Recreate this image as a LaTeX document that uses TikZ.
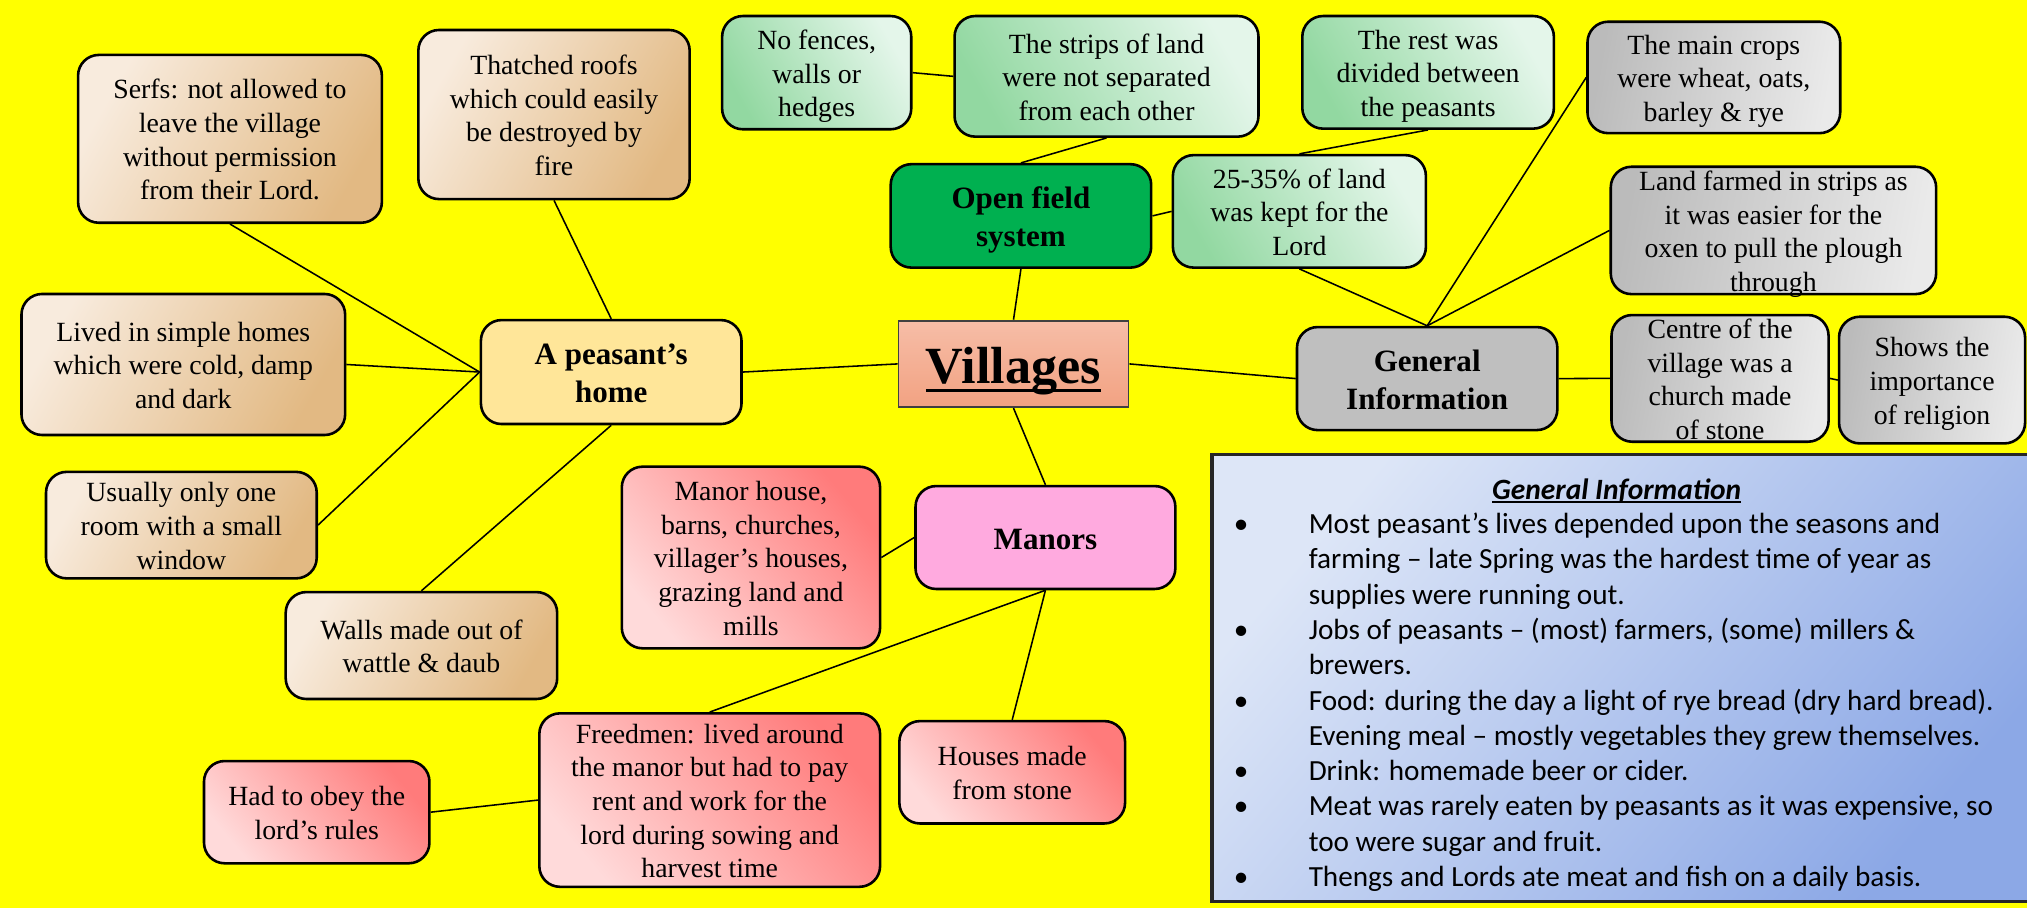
\documentclass[tikz,border=0pt]{standalone}
\usepackage{fontspec}
\setmainfont{Liberation Serif}
\newfontfamily\serifx{Liberation Serif}
\newfontfamily\calfont{Carlito}
\usetikzlibrary{fit}
\definecolor{bgY}{HTML}{FFFF00}
\definecolor{brL}{HTML}{F8EBDD}
\definecolor{brD}{HTML}{E2B983}
\definecolor{grL}{HTML}{E4F6EA}
\definecolor{grD}{HTML}{92D8A1}
\definecolor{gyD}{HTML}{BBBBBB}
\definecolor{gyL}{HTML}{EAEAEA}
\definecolor{rdD}{HTML}{FF7B7B}
\definecolor{rdL}{HTML}{FFDADA}
\definecolor{homeC}{HTML}{FFE699}
\definecolor{openC}{HTML}{00B050}
\definecolor{giC}{HTML}{BFBFBF}
\definecolor{manC}{HTML}{FFAADF}
\definecolor{vilT}{HTML}{F6BDA7}
\definecolor{vilB}{HTML}{F2A282}
\definecolor{blL}{HTML}{DDE6F7}
\definecolor{blD}{HTML}{8CA8E6}
\newcommand\bt[1]{\smash{\raisebox{\dimexpr-0.25em-1.5pt\relax}{\begin{tabular}{@{}c@{}}#1\end{tabular}}}}
\newcommand\myul[3]{\setbox0\hbox{#3}\rlap{\rule[#1]{\wd0}{#2}}\box0}
\tikzset{
  bxs/.style={draw=black, line width=1pt, rounded corners=8pt, inner sep=0pt,
    font=\serifx\fontsize{10.75}{13}\selectfont},
  hds/.style={bxs, font=\serifx\fontsize{12}{14.7}\selectfont\bfseries},
  brownbox/.style={bxs, top color=brL, bottom color=brD, shading angle=60},
  greenbox/.style={bxs, top color=grL, bottom color=grD, shading angle=-60},
  greybox/.style={bxs, top color=gyD, bottom color=gyL, shading angle=80},
  redbox/.style={bxs, top color=rdD, bottom color=rdL, shading angle=-50},
  conn/.style={draw=black, line width=0.6pt},
}
\begin{document}
\begin{tikzpicture}[x=0.5pt,y=-0.5pt]
\useasboundingbox (0,0) rectangle (1568,702);
\fill[bgY] (0,0) rectangle (1568,702);

% central
\node[draw=black!75, line width=0.7pt, inner sep=0pt, top color=vilT, bottom color=vilB,
  font=\serifx\fontsize{20.2}{24}\selectfont\bfseries, fit={(695,248) (873,315)}] (villages)
  {\smash{\raisebox{-7.5pt}{\myul{-3.5pt}{1.3pt}{Villages}}}};

% peasant's home branch
\node[hds, fill=homeC, fit={(372,247.6) (573.6,328)}] (home) {\bt{A peasant’s\\home}};
\node[brownbox, fit={(60.4,42.5) (295.4,172.3)}] (serfs) {\bt{Serfs: not allowed to\\leave the village\\without permission\\from their Lord.}};
\node[brownbox, fit={(323.6,23.2) (533.5,154)}] (thatched) {\bt{Thatched roofs\\which could easily\\be destroyed by\\fire}};
\node[brownbox, fit={(16.6,227.4) (267,336.5)}] (lived) {\bt{Lived in simple homes\\which were cold, damp\\and dark}};
\node[brownbox, fit={(35.6,365) (245,447.4)}] (usually) {\bt{Usually only one\\room with a small\\window}};
\node[brownbox, fit={(221,458) (431,540.7)}] (walls) {\bt{Walls made out of\\wattle \& daub}};

% open field branch
\node[hds, fill=openC, fit={(689,127) (890.5,207)}] (open) {\bt{Open field\\system}};
\node[greenbox, fit={(558.6,12.4) (704.9,100)}] (nofences) {\bt{No fences,\\walls or\\hedges}};
\node[greenbox, fit={(738.4,12.4) (973.5,105.7)}] (strips) {\bt{The strips of land\\were not separated\\from each other}};
\node[greenbox, fit={(1007.4,12.4) (1202,99.5)}] (rest) {\bt{The rest was\\divided between\\the peasants}};
\node[greenbox, fit={(907.3,120) (1103,207)}] (lord) {\bt{25-35\% of land\\was kept for the\\Lord}};

% general information branch
\node[hds, fill=giC, fit={(1003.3,253) (1204.7,332.7)}] (gi) {\bt{General\\Information}};
\node[greybox, fit={(1228,16.8) (1423.5,103)}] (crops) {\bt{The main crops\\were wheat, oats,\\barley \& rye}};
\node[greybox, fit={(1246,129) (1497.7,227.5)}] (land) {\bt{Land farmed in strips as\\it was easier for the\\oxen to pull the plough\\through}};
\node[greybox, fit={(1246.6,243.7) (1414.5,341.7)}] (centre) {\bt{Centre of the\\village was a\\church made\\of stone}};
\node[greybox, fit={(1422.6,245) (1566.5,343)}] (shows) {\bt{Shows the\\importance\\of religion}};

% manors branch
\node[hds, fill=manC, fit={(708.2,376) (909.2,455.6)}] (manors) {\bt{Manors}};
\node[redbox, fit={(481,361) (680.8,501.5)}] (manorhouse) {\bt{Manor house,\\barns, churches,\\villager’s houses,\\grazing land and\\mills}};
\node[redbox, fit={(417.2,551.8) (680.8,686)}] (freedmen) {\bt{Freedmen: lived around\\the manor but had to pay\\rent and work for the\\lord during sowing and\\harvest time}};
\node[redbox, fit={(695.7,557.8) (870.3,637)}] (houses) {\bt{Houses made\\from stone}};
\node[redbox, fit={(157.8,588.7) (332.2,667.8)}] (obey) {\bt{Had to obey the\\lord’s rules}};

% info panel
\node[draw=black!85, line width=1.3pt, inner sep=0pt, top color=blL, bottom color=blD, shading angle=50,
  fit={(937.5,351.5) (1574,697.5)}] (panel) {};
\node[anchor=base, inner sep=0pt, font=\calfont\bfseries\itshape\fontsize{11.4}{13.65}\selectfont]
  (ptitle) at (1250.6,386) {\myul{-1.4pt}{0.6pt}{General Information}};
\node[anchor=north west, inner sep=0pt, font=\calfont\fontsize{11.3}{13.65}\selectfont]
  (plist) at (954,393.3) {\begin{tabular}{@{}p{29pt}@{}l@{}}
\textbullet & Most peasant’s lives depended upon the seasons and\\
 & farming – late Spring was the hardest time of year as\\
 & supplies were running out.\\
\textbullet & Jobs of peasants – (most) farmers, (some) millers \&\\
 & brewers.\\
\textbullet & Food: during the day a light of rye bread (dry hard bread).\\
 & Evening meal – mostly vegetables they grew themselves.\\
\textbullet & Drink: homemade beer or cider.\\
\textbullet & Meat was rarely eaten by peasants as it was expensive, so\\
 & too were sugar and fruit.\\
\textbullet & Thengs and Lords ate meat and fish on a daily basis.
\end{tabular}};

% connectors
\draw[conn] (villages.west) -- (home.east);
\draw[conn] (villages.north) -- (open.south);
\draw[conn] (villages.east) -- (gi.west);
\draw[conn] (villages.south) -- (manors.north);
\draw[conn] (serfs.south) -- (home.west);
\draw[conn] (lived.east) -- (home.west);
\draw[conn] (usually.east) -- (home.west);
\draw[conn] (thatched.south) -- (home.north);
\draw[conn] (walls.north) -- (home.south);
\draw[conn] (nofences.east) -- (strips.west);
\draw[conn] (strips.south) -- (open.north);
\draw[conn] (open.east) -- (lord.west);
\draw[conn] (rest.south) -- (lord.north);
\draw[conn] (lord.south) -- (gi.north);
\draw[conn] (crops.west) -- (gi.north);
\draw[conn] (land.west) -- (gi.north);
\draw[conn] (gi.east) -- (centre.west);
\draw[conn] (centre.east) -- (shows.west);
\draw[conn] (manors.west) -- (manorhouse.east);
\draw[conn] (manors.south) -- (freedmen.north);
\draw[conn] (manors.south) -- (houses.north);
\draw[conn] (freedmen.west) -- (obey.east);
\end{tikzpicture}
\end{document}
